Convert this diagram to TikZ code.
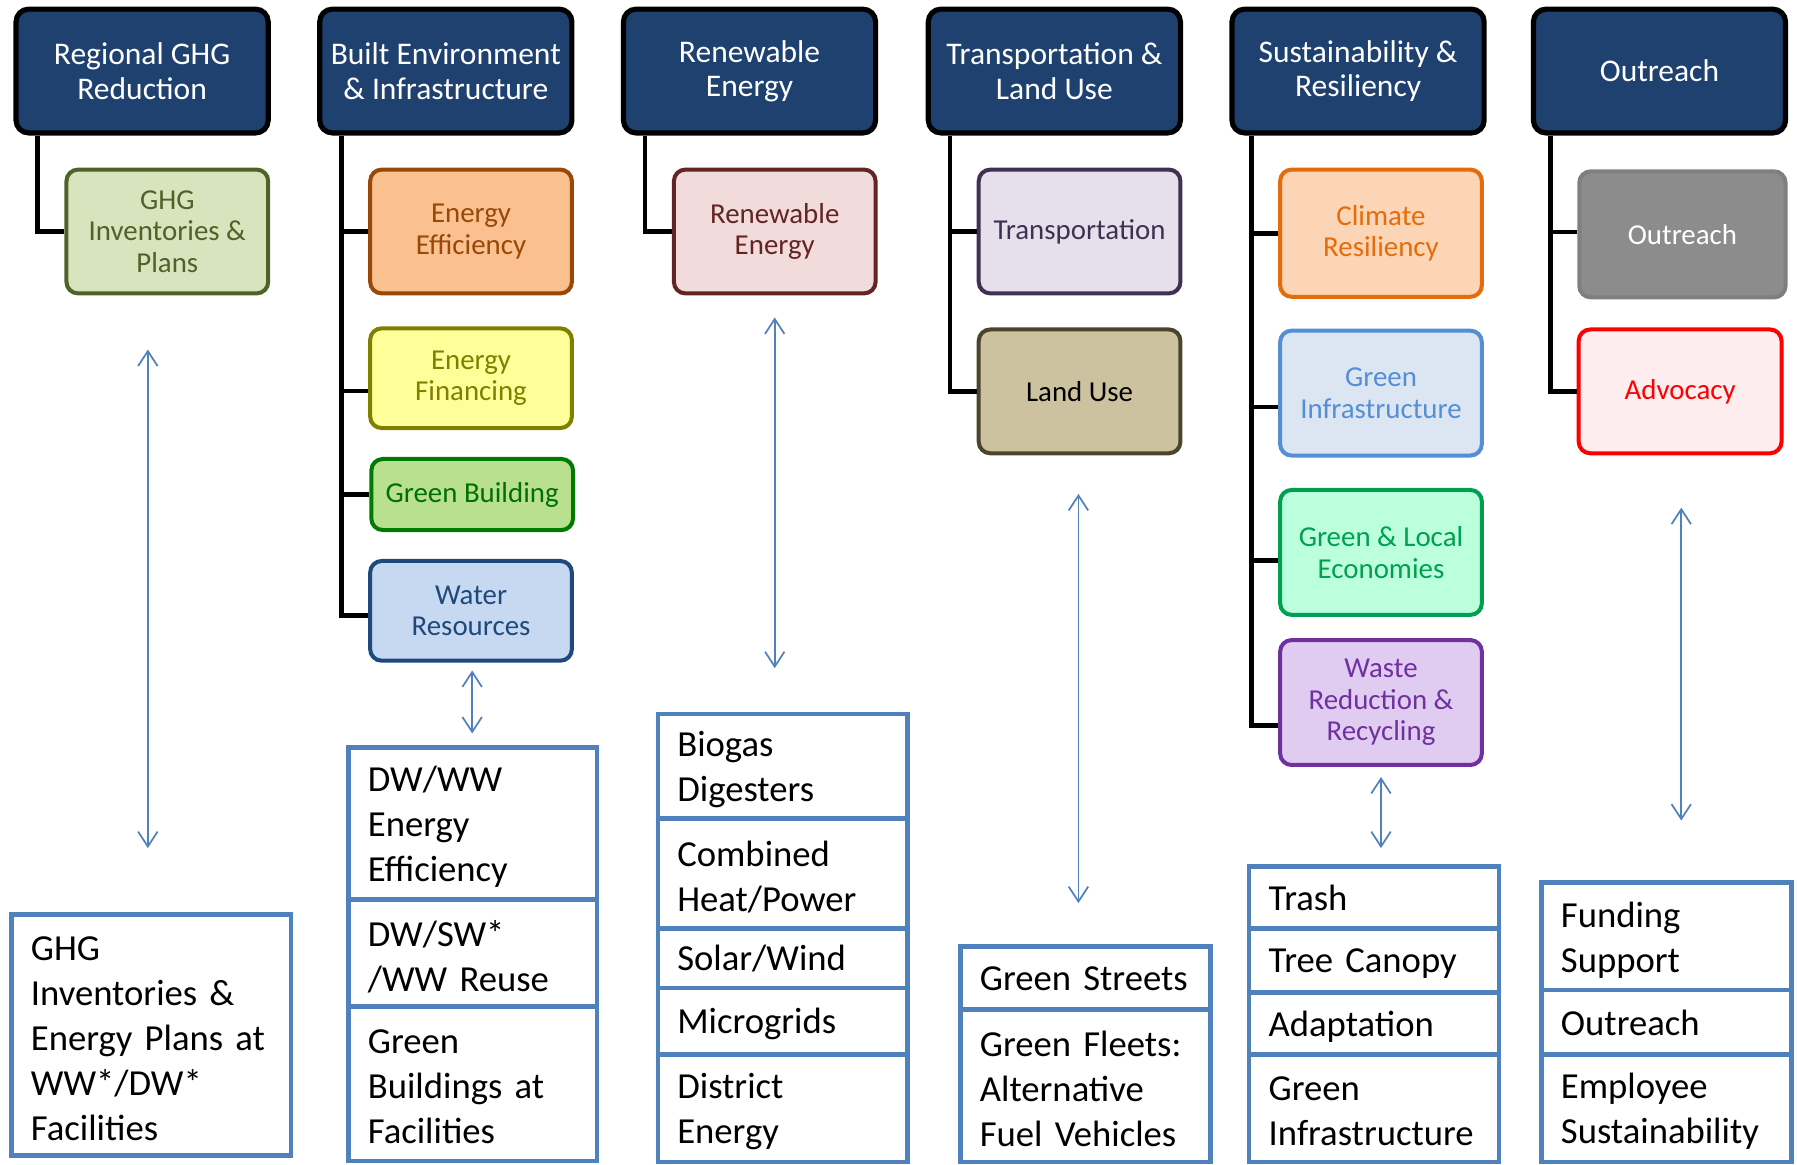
\documentclass[tikz,border=0pt]{standalone}
\usepackage{fontspec}
\setmainfont{Carlito}
\usetikzlibrary{arrows.meta}
\definecolor{hdrblue}{HTML}{1F4170}
\definecolor{segblue}{HTML}{4F81BD}
\definecolor{arrblue}{HTML}{4F81BD}
\definecolor{olvD}{HTML}{4F6228}\definecolor{olvF}{HTML}{D7E4BD}
\definecolor{brnD}{HTML}{984807}\definecolor{brnF}{HTML}{FAC090}
\definecolor{ylwD}{HTML}{7F7F00}\definecolor{ylwF}{HTML}{FFFF99}
\definecolor{grnD}{HTML}{007A00}\definecolor{grnF}{HTML}{B9E08F}\definecolor{grnT}{HTML}{007000}
\definecolor{wtrD}{HTML}{1F497D}\definecolor{wtrF}{HTML}{C6D9F1}
\definecolor{renD}{HTML}{632523}\definecolor{renF}{HTML}{F2DCDB}
\definecolor{trnD}{HTML}{403152}\definecolor{trnF}{HTML}{E6E0EC}
\definecolor{luD}{HTML}{4A452A}\definecolor{luF}{HTML}{CCC29F}
\definecolor{crD}{HTML}{E46C0A}\definecolor{crF}{HTML}{FBD5B5}
\definecolor{giD}{HTML}{558ED5}\definecolor{giF}{HTML}{DCE6F2}
\definecolor{gleD}{HTML}{00A050}\definecolor{gleF}{HTML}{BBFFDD}
\definecolor{wstD}{HTML}{7030A0}\definecolor{wstF}{HTML}{E0CCF0}
\definecolor{outD}{HTML}{7F7F7F}\definecolor{outF}{HTML}{8C8C8C}
\definecolor{advD}{HTML}{FF0000}\definecolor{advF}{HTML}{FDEDEE}
\newcommand\segtail{\endgraf\vspace*{-6pt}}
\begin{document}
\begin{tikzpicture}[x=1pt,y=-1pt,
  hdr/.style={draw=black, line width=4.5pt, fill=hdrblue, rounded corners=11pt,
    minimum width=220pt, minimum height=108pt, text=white, align=center,
    font=\fontsize{27.5}{30}\selectfont, inner sep=2pt},
  sub/.style n args={3}{draw=#1, fill=#2, text=#3, line width=3.5pt, rounded corners=10pt,
    minimum width=176pt, align=center, font=\fontsize{25.2}{27.5}\selectfont, inner sep=2pt},
  bseg/.style={draw=segblue, line width=4pt, fill=white, align=left, inner xsep=17pt,
    inner ysep=2pt, font=\fontsize{32}{39.3}\selectfont,
    execute at end node={\segtail}},
  conn/.style={draw=black, line width=4pt},
  dar/.style={draw=arrblue, line width=1.5pt,
    {Straight Barb[length=13pt,width=17pt]}-{Straight Barb[length=13pt,width=17pt]}}
]
\useasboundingbox (0,0) rectangle (1568,1016);

% headers
\node[hdr] (hA) at (124,62) {Regional GHG\\Reduction};
\node[hdr] (hB) at (389,62) {Built Environment\\\& Infrastructure};
\node[hdr] (hC) at (654,62) {Renewable\\Energy};
\node[hdr] (hD) at (920,62) {Transportation \&\\Land Use};
\node[hdr] (hE) at (1185,62) {Sustainability \&\\Resiliency};
\node[hdr] (hF) at (1448,62) {Outreach};

% children
\node[sub={olvD}{olvF}{olvD}, minimum height=108pt] (ghg) at (146,202) {GHG\\Inventories \&\\Plans};
\node[sub={brnD}{brnF}{brnD}, minimum height=108pt] (ee) at (411,202) {Energy\\Efficiency};
\node[sub={ylwD}{ylwF}{ylwD}, minimum height=87pt] (ef) at (411,330) {Energy\\Financing};
\node[sub={grnD}{grnF}{grnT}, minimum height=62pt] (gb) at (412,431.5) {Green Building};
\node[sub={wtrD}{wtrF}{wtrD}, minimum height=87pt] (wr) at (411,533) {Water\\Resources};
\node[sub={renD}{renF}{renD}, minimum height=108pt] (re) at (676,202) {Renewable\\Energy};
\node[sub={trnD}{trnF}{trnD}, minimum height=108pt] (tr) at (942,202) {Transportation};
\node[sub={luD}{luF}{black}, minimum height=108pt] (lu) at (942,341.5) {Land Use};
\node[sub={crD}{crF}{crD}, minimum height=111pt] (cr) at (1205,203.5) {Climate\\Resiliency};
\node[sub={giD}{giF}{giD}, minimum height=109pt] (gi) at (1205,343) {Green\\Infrastructure};
\node[sub={gleD}{gleF}{gleD}, minimum height=109pt] (gle) at (1205,482) {Green \& Local\\Economies};
\node[sub={wstD}{wstF}{wstD}, minimum height=109pt] (wrr) at (1205,613) {Waste\\Reduction \&\\Recycling};
\node[sub={outD}{outF}{white}, minimum height=110pt, minimum width=180pt] (out) at (1468,204.5) {Outreach};
\node[sub={advD}{advF}{advD}, minimum height=108pt, minimum width=177pt] (adv) at (1466,341.5) {Advocacy};

% tree connectors
\draw[conn] ([xshift=21pt]hA.south west) |- (ghg.west);
\draw[conn] ([xshift=21pt]hB.south west) |- (ee.west);
\draw[conn] ([xshift=21pt]hB.south west) |- ([yshift=-11pt]ef.west);
\draw[conn] ([xshift=21pt]hB.south west) |- (gb.west);
\draw[conn] ([xshift=21pt]hB.south west) |- ([yshift=-4pt]wr.west);
\draw[conn] ([xshift=21pt]hC.south west) |- (re.west);
\draw[conn] ([xshift=21pt]hD.south west) |- (tr.west);
\draw[conn] ([xshift=21pt]hD.south west) |- (lu.west);
\draw[conn] ([xshift=19pt]hE.south west) |- (cr.west);
\draw[conn] ([xshift=19pt]hE.south west) |- ([yshift=-12pt]gi.west);
\draw[conn] ([xshift=19pt]hE.south west) |- ([yshift=-7pt]gle.west);
\draw[conn] ([xshift=19pt]hE.south west) |- ([yshift=-20pt]wrr.west);
\draw[conn] ([xshift=17pt]hF.south west) |- ([yshift=2pt]out.west);
\draw[conn] ([xshift=17pt]hF.south west) |- (adv.west);

% bottom lists
\node[bseg, minimum width=244pt, minimum height=210pt, text width=210pt] (b1) at (132,903)
  {GHG\\Inventories \&\\Energy Plans at\\WW*/DW*\\Facilities};

\node[bseg, minimum width=217pt, minimum height=133pt, text width=183pt] (b2a) at (412.5,718.5) {DW/WW\\Energy\\Efficiency};
\node[bseg, minimum width=217pt, minimum height=93pt, text width=183pt] (b2b) at (412.5,831.5) {DW/SW*\\/WW Reuse};
\node[bseg, minimum width=217pt, minimum height=135pt, text width=183pt] (b2c) at (412.5,945.5) {Green\\Buildings at\\Facilities};

\node[bseg, minimum width=218pt, minimum height=91pt, text width=184pt] (b3a) at (683,668.5) {Biogas\\Digesters};
\node[bseg, minimum width=218pt, minimum height=96pt, text width=184pt] (b3b) at (683,762) {Combined\\Heat/Power};
\node[bseg, minimum width=218pt, minimum height=52pt, text width=184pt] (b3c) at (683,836) {Solar/Wind};
\node[bseg, minimum width=218pt, minimum height=58pt, text width=184pt] (b3d) at (683,891) {Microgrids};
\node[bseg, minimum width=218pt, minimum height=94pt, text width=184pt] (b3e) at (683,967) {District\\Energy};

\node[bseg, minimum width=218pt, minimum height=55pt, text width=184pt] (b4a) at (947,853.5) {Green Streets};
\node[bseg, minimum width=218pt, minimum height=133pt, text width=184pt] (b4b) at (947,947.5) {Green Fleets:\\Alternative\\Fuel Vehicles};

\node[bseg, minimum width=218pt, minimum height=54pt, text width=184pt] (b5a) at (1199,783) {Trash};
\node[bseg, minimum width=218pt, minimum height=56pt, text width=184pt] (b5b) at (1199,838) {Tree Canopy};
\node[bseg, minimum width=218pt, minimum height=54pt, text width=184pt] (b5c) at (1199,893) {Adaptation};
\node[bseg, minimum width=218pt, minimum height=94pt, text width=184pt] (b5d) at (1199,967) {Green\\Infrastructure};

\node[bseg, minimum width=218pt, minimum height=94pt, text width=184pt] (b6a) at (1454,817) {Funding\\Support};
\node[bseg, minimum width=218pt, minimum height=56pt, text width=184pt] (b6b) at (1454,892) {Outreach};
\node[bseg, minimum width=218pt, minimum height=94pt, text width=184pt] (b6c) at (1454,967) {Employee\\Sustainability};

% double arrows
\coordinate (a1t) at (129,305);  \coordinate (a1b) at (129,740);
\coordinate (a2t) at (412,585);  \coordinate (a2b) at (412,640);
\coordinate (a3t) at (676,277);  \coordinate (a3b) at (676,583);
\coordinate (a4t) at (941,431);  \coordinate (a4b) at (941,788);
\coordinate (a5t) at (1205,678); \coordinate (a5b) at (1205,740);
\coordinate (a6t) at (1467,443); \coordinate (a6b) at (1467,716);
\draw[dar] (a1t) -- (a1b);
\draw[dar] (a2t) -- (a2b);
\draw[dar] (a3t) -- (a3b);
\draw[dar] (a4t) -- (a4b);
\draw[dar] (a5t) -- (a5b);
\draw[dar] (a6t) -- (a6b);
\end{tikzpicture}
\end{document}
